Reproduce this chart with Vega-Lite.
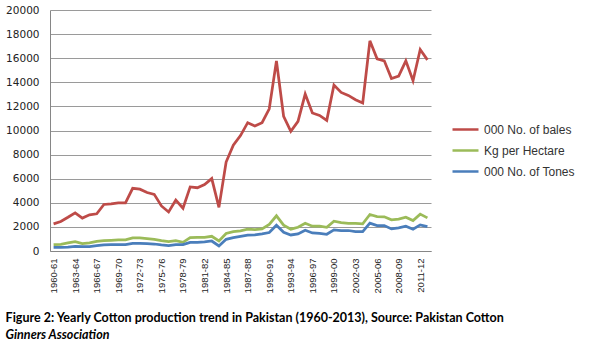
{
  "$schema": "https://vega.github.io/schema/vega-lite/v6.json",
  "width": 381,
  "height": 241,
  "padding": {"left": 5, "top": 5, "right": 5, "bottom": 5},
  "background": "white",
  "datasets": {
    "bales": [
      {"year": "1960-61", "value": 2250}, {"year": "1961-62", "value": 2450}, {"year": "1962-63", "value": 2800},
      {"year": "1963-64", "value": 3170}, {"year": "1964-65", "value": 2730}, {"year": "1965-66", "value": 3000},
      {"year": "1966-67", "value": 3090}, {"year": "1967-68", "value": 3860}, {"year": "1968-69", "value": 3920},
      {"year": "1969-70", "value": 4000}, {"year": "1970-71", "value": 4000}, {"year": "1971-72", "value": 5200},
      {"year": "1972-73", "value": 5130}, {"year": "1973-74", "value": 4850}, {"year": "1974-75", "value": 4700},
      {"year": "1975-76", "value": 3740}, {"year": "1976-77", "value": 3240}, {"year": "1977-78", "value": 4220},
      {"year": "1978-79", "value": 3550}, {"year": "1979-80", "value": 5320}, {"year": "1980-81", "value": 5250},
      {"year": "1981-82", "value": 5510}, {"year": "1982-83", "value": 6010}, {"year": "1983-84", "value": 3620},
      {"year": "1984-85", "value": 7380}, {"year": "1985-86", "value": 8780}, {"year": "1986-87", "value": 9580},
      {"year": "1987-88", "value": 10650}, {"year": "1988-89", "value": 10370}, {"year": "1989-90", "value": 10650},
      {"year": "1990-91", "value": 11800}, {"year": "1991-92", "value": 15780}, {"year": "1992-93", "value": 11170},
      {"year": "1993-94", "value": 9930}, {"year": "1994-95", "value": 10760}, {"year": "1995-96", "value": 13020},
      {"year": "1996-97", "value": 11450}, {"year": "1997-98", "value": 11250}, {"year": "1998-99", "value": 10840},
      {"year": "1999-00", "value": 13770}, {"year": "2000-01", "value": 13160}, {"year": "2001-02", "value": 12910},
      {"year": "2002-03", "value": 12550}, {"year": "2003-04", "value": 12280}, {"year": "2004-05", "value": 17440},
      {"year": "2005-06", "value": 15950}, {"year": "2006-07", "value": 15780}, {"year": "2007-08", "value": 14320},
      {"year": "2008-09", "value": 14510}, {"year": "2009-10", "value": 15780}, {"year": "2010-11", "value": 14130},
      {"year": "2011-12", "value": 16720}, {"year": "2012-13", "value": 15860}
    ],
    "kg": [
      {"year": "1960-61", "value": 530}, {"year": "1961-62", "value": 555}, {"year": "1962-63", "value": 670},
      {"year": "1963-64", "value": 780}, {"year": "1964-65", "value": 610}, {"year": "1965-66", "value": 670},
      {"year": "1966-67", "value": 800}, {"year": "1967-68", "value": 860}, {"year": "1968-69", "value": 890},
      {"year": "1969-70", "value": 920}, {"year": "1970-71", "value": 920}, {"year": "1971-72", "value": 1080},
      {"year": "1972-73", "value": 1080}, {"year": "1973-74", "value": 1030}, {"year": "1974-75", "value": 970},
      {"year": "1975-76", "value": 860}, {"year": "1976-77", "value": 770}, {"year": "1977-78", "value": 860},
      {"year": "1978-79", "value": 720}, {"year": "1979-80", "value": 1110}, {"year": "1980-81", "value": 1140},
      {"year": "1981-82", "value": 1140}, {"year": "1982-83", "value": 1220}, {"year": "1983-84", "value": 830},
      {"year": "1984-85", "value": 1450}, {"year": "1985-86", "value": 1610}, {"year": "1986-87", "value": 1670},
      {"year": "1987-88", "value": 1810}, {"year": "1988-89", "value": 1780}, {"year": "1989-90", "value": 1830},
      {"year": "1990-91", "value": 2200}, {"year": "1991-92", "value": 2920}, {"year": "1992-93", "value": 2150},
      {"year": "1993-94", "value": 1810}, {"year": "1994-95", "value": 1970}, {"year": "1995-96", "value": 2300},
      {"year": "1996-97", "value": 2060}, {"year": "1997-98", "value": 2060}, {"year": "1998-99", "value": 1970},
      {"year": "1999-00", "value": 2470}, {"year": "2000-01", "value": 2360}, {"year": "2001-02", "value": 2300},
      {"year": "2002-03", "value": 2300}, {"year": "2003-04", "value": 2250}, {"year": "2004-05", "value": 3030},
      {"year": "2005-06", "value": 2860}, {"year": "2006-07", "value": 2840}, {"year": "2007-08", "value": 2590},
      {"year": "2008-09", "value": 2640}, {"year": "2009-10", "value": 2810}, {"year": "2010-11", "value": 2530},
      {"year": "2011-12", "value": 3060}, {"year": "2012-13", "value": 2750}
    ],
    "tones": [
      {"year": "1960-61", "value": 305}, {"year": "1961-62", "value": 305}, {"year": "1962-63", "value": 330},
      {"year": "1963-64", "value": 390}, {"year": "1964-65", "value": 360}, {"year": "1965-66", "value": 360},
      {"year": "1966-67", "value": 445}, {"year": "1967-68", "value": 500}, {"year": "1968-69", "value": 530},
      {"year": "1969-70", "value": 530}, {"year": "1970-71", "value": 530}, {"year": "1971-72", "value": 640},
      {"year": "1972-73", "value": 640}, {"year": "1973-74", "value": 610}, {"year": "1974-75", "value": 580},
      {"year": "1975-76", "value": 500}, {"year": "1976-77", "value": 450}, {"year": "1977-78", "value": 530},
      {"year": "1978-79", "value": 530}, {"year": "1979-80", "value": 720}, {"year": "1980-81", "value": 720},
      {"year": "1981-82", "value": 750}, {"year": "1982-83", "value": 830}, {"year": "1983-84", "value": 420},
      {"year": "1984-85", "value": 970}, {"year": "1985-86", "value": 1110}, {"year": "1986-87", "value": 1220},
      {"year": "1987-88", "value": 1310}, {"year": "1988-89", "value": 1330}, {"year": "1989-90", "value": 1420},
      {"year": "1990-91", "value": 1530}, {"year": "1991-92", "value": 2140}, {"year": "1992-93", "value": 1550},
      {"year": "1993-94", "value": 1330}, {"year": "1994-95", "value": 1420}, {"year": "1995-96", "value": 1720},
      {"year": "1996-97", "value": 1500}, {"year": "1997-98", "value": 1470}, {"year": "1998-99", "value": 1390},
      {"year": "1999-00", "value": 1750}, {"year": "2000-01", "value": 1700}, {"year": "2001-02", "value": 1700},
      {"year": "2002-03", "value": 1610}, {"year": "2003-04", "value": 1610}, {"year": "2004-05", "value": 2310},
      {"year": "2005-06", "value": 2110}, {"year": "2006-07", "value": 2110}, {"year": "2007-08", "value": 1830},
      {"year": "2008-09", "value": 1920}, {"year": "2009-10", "value": 2060}, {"year": "2010-11", "value": 1810},
      {"year": "2011-12", "value": 2170}, {"year": "2012-13", "value": 2030}
    ]
  },
  "title": {
    "text": "Figure 2: Yearly Cotton production trend in Pakistan (1960-2013), Source: Pakistan Cotton",
    "subtitle": "Ginners Association",
    "orient": "bottom",
    "anchor": "start",
    "frame": "bounds",
    "offset": 19,
    "font": "Lato",
    "fontSize": 12.5,
    "fontWeight": "bold",
    "color": "#000000",
    "subtitleFont": "Lato",
    "subtitleFontSize": 12.5,
    "subtitleFontWeight": "bold",
    "subtitleFontStyle": "italic",
    "subtitleColor": "#000000",
    "subtitlePadding": 5
  },
  "encoding": {
    "x": {
      "field": "year",
      "type": "ordinal",
      "sort": null,
      "scale": {"type": "point", "padding": 0.5},
      "axis": {
        "title": null,
        "values": ["1960-61", "1963-64", "1966-67", "1969-70", "1972-73", "1975-76", "1978-79", "1981-82", "1984-85", "1987-88", "1990-91", "1993-94", "1996-97", "1999-00", "2002-03", "2005-06", "2008-09", "2011-12"],
        "labelAngle": -90,
        "labelFont": "Liberation Sans",
        "labelFontSize": 9.5,
        "labelColor": "#222222",
        "labelPadding": 7,
        "ticks": false,
        "grid": false,
        "domainColor": "#868686",
        "domainWidth": 1
      }
    },
    "y": {
      "field": "value",
      "type": "quantitative",
      "scale": {"domain": [0, 20000], "nice": false},
      "axis": {
        "title": null,
        "values": [0, 2000, 4000, 6000, 8000, 10000, 12000, 14000, 16000, 18000, 20000],
        "format": "d",
        "labelFont": "DejaVu Sans",
        "labelFontSize": 10.5,
        "labelColor": "#222222",
        "labelPadding": 11,
        "ticks": false,
        "gridColor": "#9a9a9a",
        "gridWidth": 1,
        "domainColor": "#868686",
        "domainWidth": 1
      }
    },
    "color": {
      "datum": "x",
      "type": "nominal",
      "scale": {
        "domain": ["000 No. of bales", "Kg per Hectare", "000 No. of Tones"],
        "range": ["#BE4B48", "#9BBB59", "#4A7EBB"]
      },
      "legend": {
        "title": null,
        "orient": "none",
        "legendX": 401,
        "legendY": 105,
        "symbolType": "stroke",
        "symbolSize": 676,
        "symbolStrokeWidth": 2.5,
        "labelFont": "Liberation Sans",
        "labelFontSize": 12,
        "labelColor": "#333333",
        "labelOffset": 4,
        "rowPadding": -3,
        "padding": 0
      }
    }
  },
  "layer": [
    {
      "data": {"name": "kg"},
      "mark": {"type": "line", "strokeWidth": 2.75},
      "encoding": {"color": {"datum": "Kg per Hectare"}}
    },
    {
      "data": {"name": "tones"},
      "mark": {"type": "line", "strokeWidth": 2.75},
      "encoding": {"color": {"datum": "000 No. of Tones"}}
    },
    {
      "data": {"name": "bales"},
      "mark": {"type": "line", "strokeWidth": 2.75},
      "encoding": {"color": {"datum": "000 No. of bales"}}
    }
  ],
  "config": {
    "view": {"stroke": null},
    "font": "Liberation Sans"
  }
}
